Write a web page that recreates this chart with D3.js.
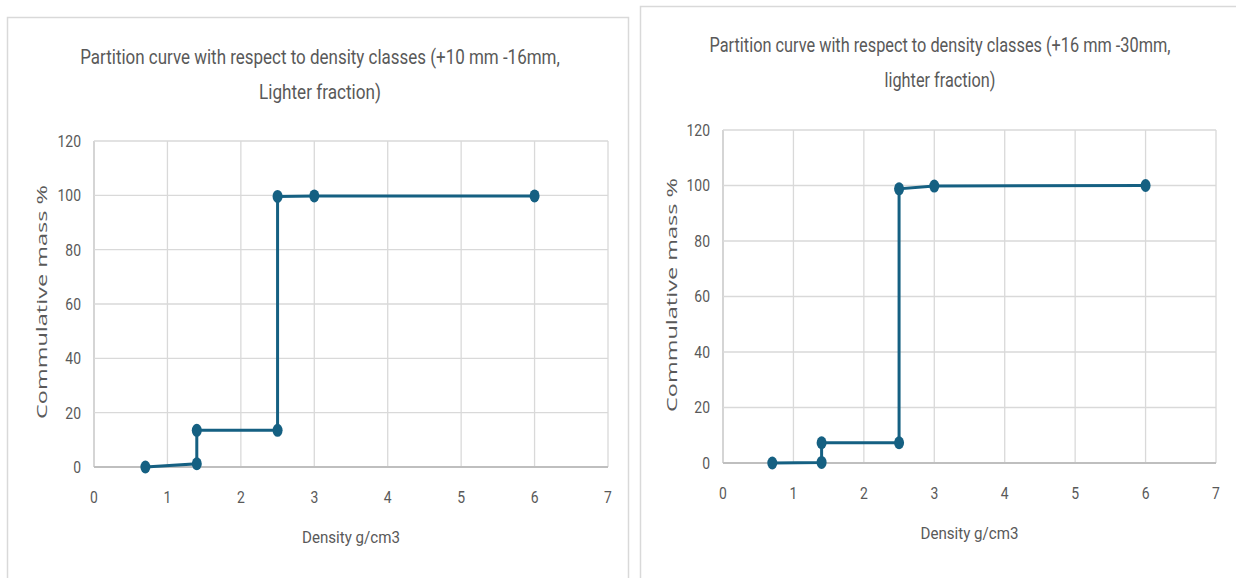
<!DOCTYPE html>
<html><head><meta charset="utf-8">
<script src="https://cdn.jsdelivr.net/npm/d3@7"></script>
<style>
html,body{margin:0;padding:0;background:#fff;}
svg{display:block;}
</style></head>
<body>
<svg id="c" width="1236" height="578"></svg>
<script>
// ---- data ----
const xTicks = [0,1,2,3,4,5,6,7];
const yTicks = [0,20,40,60,80,100,120];
const leftDensity = [0.7, 1.4, 1.4, 2.5, 2.5, 3, 6];
const leftMass    = [0, 1.2, 13.5, 13.5, 99.6, 99.8, 99.8];
const rightDensity = [0.7, 1.4, 1.4, 2.5, 2.5, 3, 6];
const rightMass    = [0, 0.2, 7.3, 7.3, 98.8, 99.8, 100];
const leftTitle = ["Partition curve with respect to density classes (+10 mm -16mm,", "Lighter fraction)"];
const rightTitle = ["Partition curve with respect to density classes (+16 mm -30mm,", "lighter fraction)"];
const xLabel = "Density g/cm3";
const yLabel = "Commulative mass %";

const svg = d3.select("#c");
const lineColor = "#156082";
const textColor = "#595959";
const narrow = "'Roboto','Liberation Sans',sans-serif";

// text placed at (cx,cy), centered, horizontally squeezed to a target width
function fitText(parent, str, cx, cy, size, width, anchor, family){
  const g = parent.append("g");
  const t = g.append("text").attr("dy","0.35em").attr("text-anchor",anchor||"middle")
    .attr("font-family",family||narrow).attr("font-size",size).attr("fill",textColor).text(str);
  const w = t.node().getComputedTextLength();
  const s = width ? width / w : 0.82;
  g.attr("transform",`translate(${cx},${cy}) scale(${s},1)`);
  return g;
}

// chart frames
svg.append("rect").attr("x",7.5).attr("y",17.5).attr("width",621).attr("height",570)
  .attr("fill","none").attr("stroke","#d9d9d9").attr("stroke-width",1.5);
svg.append("rect").attr("x",640.5).attr("y",6.5).attr("width",610).attr("height",590)
  .attr("fill","none").attr("stroke","#d9d9d9").attr("stroke-width",1.5);

function drawChart(cfg){
  const g = svg.append("g");
  const x = d3.scaleLinear().domain([0,7]).range([cfg.x0, cfg.x1]);
  const y = d3.scaleLinear().domain([0,120]).range([cfg.y0, cfg.y1]);

  // gridlines
  g.selectAll(".vg").data(xTicks).join("line")
    .attr("x1",d=>x(d)).attr("x2",d=>x(d)).attr("y1",y(0)).attr("y2",y(120))
    .attr("stroke",d=>d===0?"#bfbfbf":"#d9d9d9").attr("stroke-width",1.3);
  g.selectAll(".hg").data(yTicks).join("line")
    .attr("x1",x(0)).attr("x2",x(7)).attr("y1",d=>y(d)).attr("y2",d=>y(d))
    .attr("stroke",d=>d===0?"#bfbfbf":"#d9d9d9").attr("stroke-width",d=>d===0?1.8:1.3);

  // tick labels
  yTicks.forEach(d=>fitText(g, String(d), x(0)-13, y(d), 17, null, "end"));
  xTicks.forEach(d=>fitText(g, String(d), x(d), y(0)+30, 17, null, "middle"));

  // titles
  cfg.title.forEach((t,i)=>fitText(g, t, cfg.tcx, cfg.ty[i], 21, cfg.tw[i], "middle"));
  // x title
  fitText(g, xLabel, (x(0)+x(7))/2, cfg.xty, 17, 98, "middle");
  // y title
  const yt = fitText(g, yLabel, 0, 0, 15, 234, "middle", "'Open Sans','DejaVu Sans',sans-serif");
  yt.attr("transform",`translate(${cfg.ytx},${cfg.yty}) rotate(-90) scale(${234/yt.select("text").node().getComputedTextLength()},1)`);

  // series
  const pts = cfg.xs.map((d,i)=>[d,cfg.ys[i]]);
  g.append("path").datum(pts)
    .attr("d", d3.line().x(d=>x(d[0])).y(d=>y(d[1])))
    .attr("fill","none").attr("stroke",lineColor).attr("stroke-width",3);
  g.selectAll(".pt").data(pts).join("ellipse")
    .attr("cx",d=>x(d[0])).attr("cy",d=>y(d[1])).attr("rx",5).attr("ry",6.5)
    .attr("fill",lineColor);
}

drawChart({x0:94,x1:608,y0:467,y1:141,xs:leftDensity,ys:leftMass,title:leftTitle,
  tcx:320,ty:[57,92],tw:[480,122],xty:537,ytx:42,yty:302});
drawChart({x0:723,x1:1216,y0:463,y1:130,xs:rightDensity,ys:rightMass,title:rightTitle,
  tcx:940,ty:[45,80],tw:[461,111],xty:533,ytx:672,yty:295});
</script>
</body></html>
